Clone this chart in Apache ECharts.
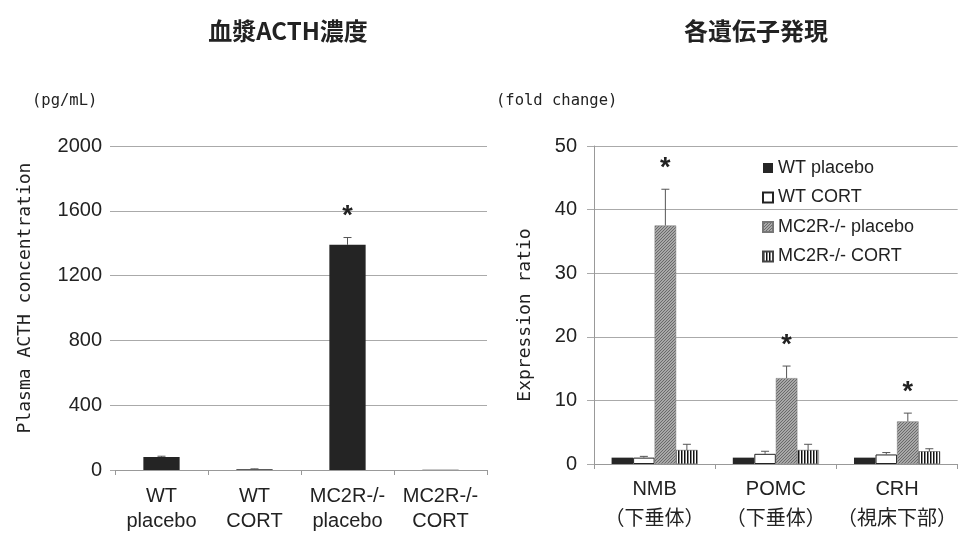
<!DOCTYPE html>
<html>
<head>
<meta charset="utf-8">
<style>
  html, body { margin: 0; padding: 0; background: #fff; }
  #chart { width: 960px; height: 535px; }
</style>
<script src="https://cdn.jsdelivr.net/npm/echarts@6/dist/echarts.min.js"></script>
</head>
<body>
<div id="chart"></div>
<script>
// Plasma ACTH (pg/mL): mean, SEM and significance flag per group
const acthCategories = ['WT\nplacebo', 'WT\nCORT', 'MC2R-/-\nplacebo', 'MC2R-/-\nCORT'];
const acthMean = [80, 5, 1390, 2];
const acthSem = [5, 2, 45, 0];
const acthSig = [0, 0, 1, 0];
const acthTicks = { min: 0, max: 2000, interval: 400 };

// Gene expression (fold change) per tissue
const geneCategories = ['NMB\n（下垂体）', 'POMC\n（下垂体）', 'CRH\n（視床下部）'];
const groupNames = ['WT placebo', 'WT CORT', 'MC2R-/- placebo', 'MC2R-/- CORT'];
const wtPlaceboMean = [1.0, 1.0, 1.0];
const wtPlaceboSem = [0, 0, 0];
const wtCortMean = [1.0, 1.6, 1.5];
const wtCortSem = [0.2, 0.4, 0.3];
const koPlaceboMean = [37.5, 13.5, 6.7];
const koPlaceboSem = [5.7, 1.9, 1.3];
const koCortMean = [2.2, 2.2, 2.0];
const koCortSem = [0.9, 0.9, 0.4];
const koPlaceboSig = [1, 1, 1];
const geneTicks = { min: 0, max: 50, interval: 10 };

const LATIN = '"Liberation Sans", Arial, "Noto Sans CJK JP", sans-serif';
const CJK = '"Noto Sans CJK JP", "Noto Sans CJK SC", sans-serif';
const MONO = '"DejaVu Sans Mono", "Liberation Mono", monospace';
const INK = '#222';

// Fill patterns: fine diagonal hatch and vertical stripes
function hatchPattern() {
  const c = document.createElement('canvas');
  c.width = 3; c.height = 3;
  const g = c.getContext('2d');
  g.fillStyle = '#a8a8a8';
  g.fillRect(0, 0, 3, 3);
  g.fillStyle = '#6a6a6a';
  for (let i = 0; i < 3; i++) g.fillRect(i, 2 - i, 1, 1);
  return { image: c, repeat: 'repeat' };
}
function stripePattern() {
  const c = document.createElement('canvas');
  c.width = 3; c.height = 3;
  const g = c.getContext('2d');
  g.fillStyle = '#fff';
  g.fillRect(0, 0, 3, 3);
  g.fillStyle = '#111';
  g.fillRect(0, 0, 1, 3);
  g.fillStyle = '#888';
  g.fillRect(1, 0, 1, 3);
  return { image: c, repeat: 'repeat' };
}

// Error bar (upward) with cap, plus '*' above it when flagged
function errorRenderer(nSeries, gapFrac) {
  return function (params, api) {
    const cat = api.value(0), s = api.value(1), v = api.value(2), e = api.value(3), sig = api.value(4);
    const band = api.size([1, 0])[0];
    const bw = band * (1 - gapFrac) / nSeries;
    const x = api.coord([cat, 0])[0] + (s - (nSeries - 1) / 2) * bw;
    const y0 = api.coord([cat, v])[1];
    const y1 = api.coord([cat, v + e])[1];
    const children = [];
    if (e > 0) {
      children.push({ type: 'line', shape: { x1: x, y1: y0, x2: x, y2: y1 }, style: { stroke: '#555', lineWidth: 1 } });
      children.push({ type: 'line', shape: { x1: x - 4, y1: y1, x2: x + 4, y2: y1 }, style: { stroke: '#555', lineWidth: 1 } });
    }
    if (sig) {
      children.push({ type: 'text', style: { text: '*', x: x, y: y1 - 21, fill: INK, font: 'bold 27px ' + LATIN, align: 'center', verticalAlign: 'middle' } });
    }
    return { type: 'group', children };
  };
}

const acthErrData = acthMean.map((v, i) => [i, 0, v, acthSem[i], acthSig[i]]);
const geneMeans = [wtPlaceboMean, wtCortMean, koPlaceboMean, koCortMean];
const geneSems = [wtPlaceboSem, wtCortSem, koPlaceboSem, koCortSem];
const geneErrData = [];
geneMeans.forEach((arr, s) => arr.forEach((v, i) => {
  geneErrData.push([i, s, v, geneSems[s][i], s === 2 ? koPlaceboSig[i] : 0]);
}));

const groupStyles = [
  { color: '#262626' },
  { color: '#fff', borderColor: '#222', borderWidth: 1 },
  { color: hatchPattern(), borderColor: '#777', borderWidth: 0.5 },
  { color: stripePattern(), borderColor: '#444', borderWidth: 0.5 }
];

const axisLabelStyle = { color: INK, fontFamily: LATIN, fontSize: 20 };
const plainNumber = v => String(v);

const chart = echarts.init(document.getElementById('chart'), null, { renderer: 'canvas' });
chart.setOption({
  animation: false,
  backgroundColor: '#fff',
  title: [
    { text: '血漿ACTH濃度', left: 283, top: 14, textAlign: 'center', textStyle: { fontFamily: CJK, fontWeight: 'bold', fontSize: 24, color: INK } },
    { text: '各遺伝子発現', left: 751, top: 14, textAlign: 'center', textStyle: { fontFamily: CJK, fontWeight: 'bold', fontSize: 24, color: INK } }
  ],
  graphic: [
    { type: 'text', left: 32, top: 93, style: { text: '(pg/mL)', font: '15.5px ' + MONO, fill: INK } },
    { type: 'text', left: 496, top: 93, style: { text: '(fold change)', font: '15.5px ' + MONO, fill: INK } },
    { type: 'text', x: 25, y: 298, rotation: Math.PI / 2, style: { text: 'Plasma ACTH concentration', font: '18px ' + MONO, fill: INK, align: 'center', verticalAlign: 'middle' } },
    { type: 'text', x: 525, y: 315, rotation: Math.PI / 2, style: { text: 'Expression ratio', font: '18px ' + MONO, fill: INK, align: 'center', verticalAlign: 'middle' } }
  ],
  legend: {
    data: groupNames,
    orient: 'vertical',
    left: 762,
    top: 159,
    padding: 0,
    itemWidth: 10,
    itemHeight: 10,
    itemGap: 11.5,
    icon: 'rect',
    textStyle: { color: INK, fontFamily: LATIN, fontSize: 18 },
    selectedMode: false
  },
  grid: [
    { left: 115, right: 473, top: 146, bottom: 65 },
    { left: 594, right: 2, top: 146, bottom: 71 }
  ],
  xAxis: [
    {
      type: 'category', gridIndex: 0, data: acthCategories,
      axisLine: { lineStyle: { color: '#999' } },
      axisTick: { show: true, length: 5, lineStyle: { color: '#999' } },
      axisLabel: Object.assign({ interval: 0, margin: 14, lineHeight: 25 }, axisLabelStyle)
    },
    {
      type: 'category', gridIndex: 1, data: geneCategories,
      axisLine: { lineStyle: { color: '#999' } },
      axisTick: { show: true, length: 5, lineStyle: { color: '#999' } },
      axisLabel: Object.assign({ interval: 0, margin: 10, lineHeight: 30 }, axisLabelStyle)
    }
  ],
  yAxis: [
    {
      type: 'value', gridIndex: 0, min: acthTicks.min, max: acthTicks.max, interval: acthTicks.interval,
      axisLine: { show: false },
      axisTick: { show: true, length: 5, lineStyle: { color: '#aaa' } },
      splitLine: { lineStyle: { color: '#aaa', width: 1 } },
      axisLabel: Object.assign({ margin: 13, formatter: plainNumber }, axisLabelStyle)
    },
    {
      type: 'value', gridIndex: 1, min: geneTicks.min, max: geneTicks.max, interval: geneTicks.interval,
      axisLine: { show: true, lineStyle: { color: '#999' } },
      axisTick: { show: true, length: 7, lineStyle: { color: '#aaa' } },
      splitLine: { lineStyle: { color: '#aaa', width: 1 } },
      axisLabel: Object.assign({ margin: 17, formatter: plainNumber }, axisLabelStyle)
    }
  ],
  series: [
    {
      name: 'ACTH', type: 'bar', xAxisIndex: 0, yAxisIndex: 0,
      data: acthMean, barWidth: '39%', itemStyle: { color: '#242424' }
    },
    {
      type: 'custom', xAxisIndex: 0, yAxisIndex: 0, z: 5,
      renderItem: errorRenderer(1, 0.61),
      encode: { x: 0, y: 2 }, data: acthErrData, silent: true
    },
    ...groupNames.map((name, s) => ({
      name, type: 'bar', xAxisIndex: 1, yAxisIndex: 1,
      data: geneMeans[s], barGap: '0%', barCategoryGap: '29%',
      itemStyle: groupStyles[s]
    })),
    {
      type: 'custom', xAxisIndex: 1, yAxisIndex: 1, z: 5,
      renderItem: errorRenderer(4, 0.29),
      encode: { x: 0, y: 2 }, data: geneErrData, silent: true
    }
  ]
});
</script>
</body>
</html>
